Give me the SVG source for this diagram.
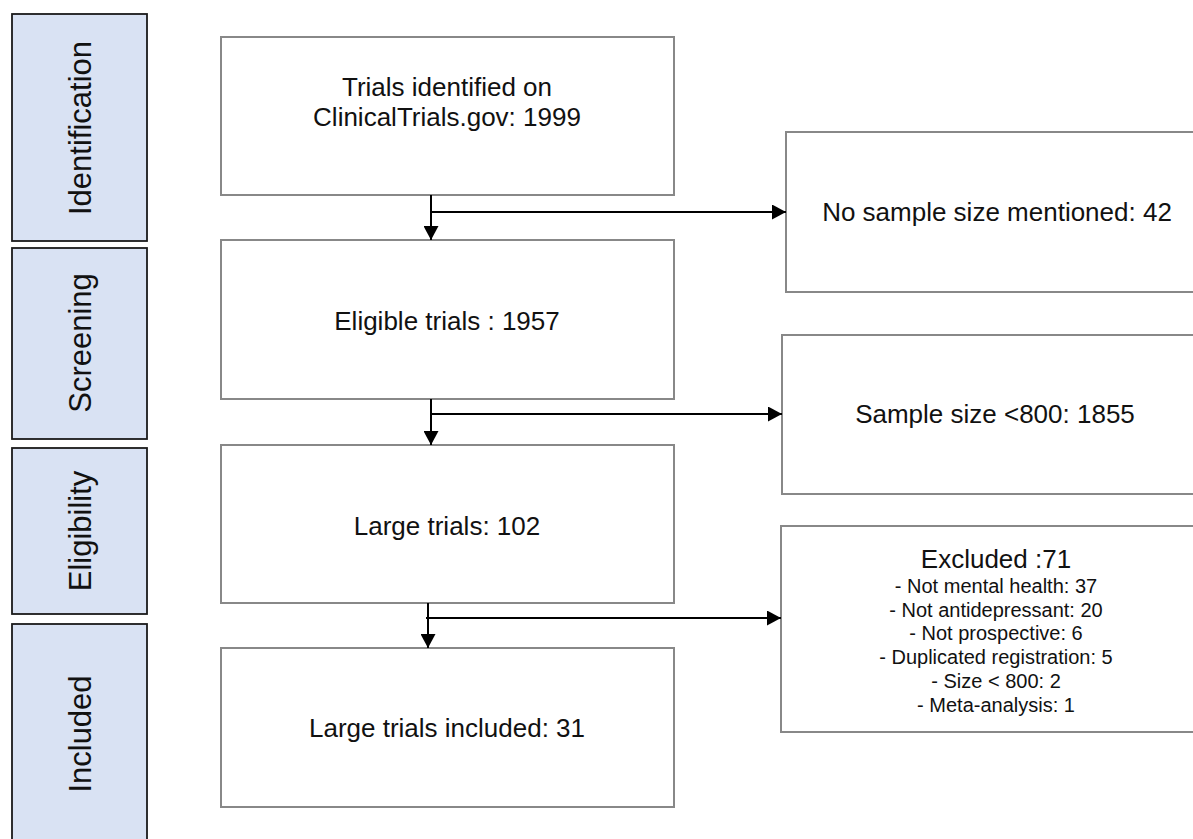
<svg xmlns="http://www.w3.org/2000/svg" width="1193" height="839" viewBox="0 0 1193 839">
<style>
.stage{fill:#d9e2f3;stroke:#1a1a1a;stroke-width:1.8}
.box{fill:#ffffff;stroke:#888888;stroke-width:2}
.t{font-family:"Liberation Sans",Arial,sans-serif;fill:#111111;text-anchor:middle}
.big{font-size:26px}
.side{font-size:31px}
.small{font-size:20px}
.conn{fill:none;stroke:#000000;stroke-width:2}
</style>
<defs>
<marker id="ah" markerUnits="userSpaceOnUse" markerWidth="14" markerHeight="15" refX="14" refY="7.5" orient="auto">
<path d="M0,0 L14,7.5 L0,15 z" fill="#000000"/>
</marker>
</defs>
<rect width="1193" height="839" fill="#ffffff"/>
<g id="stage-identification">
<rect class="stage" x="12" y="14" width="135" height="227"/>
<text class="t side" transform="translate(90.5,128) rotate(-90)">Identification</text>
</g>
<g id="stage-screening">
<rect class="stage" x="12" y="248" width="135" height="191"/>
<text class="t side" transform="translate(90.5,343) rotate(-90)">Screening</text>
</g>
<g id="stage-eligibility">
<rect class="stage" x="12" y="448" width="135" height="166"/>
<text class="t side" transform="translate(90.5,531) rotate(-90)">Eligibility</text>
</g>
<g id="stage-included">
<rect class="stage" x="12" y="624" width="135" height="222"/>
<text class="t side" transform="translate(90.5,734) rotate(-90)">Included</text>
</g>
<g id="node-identified">
<rect class="box" x="221" y="37" width="453" height="158"/>
<text class="t big" x="447" y="96">Trials identified on</text>
<text class="t big" x="447" y="126">ClinicalTrials.gov: 1999</text>
</g>
<g id="node-eligible">
<rect class="box" x="221" y="240" width="453" height="159"/>
<text class="t big" x="447" y="330">Eligible trials : 1957</text>
</g>
<g id="node-large">
<rect class="box" x="221" y="445" width="453" height="158"/>
<text class="t big" x="447" y="535">Large trials: 102</text>
</g>
<g id="node-included">
<rect class="box" x="221" y="648" width="453" height="159"/>
<text class="t big" x="447" y="737">Large trials included: 31</text>
</g>
<g id="node-nosize">
<rect class="box" x="786" y="132" width="422" height="160"/>
<text class="t big" x="997" y="221">No sample size mentioned: 42</text>
</g>
<g id="node-small">
<rect class="box" x="782" y="335" width="426" height="159"/>
<text class="t big" x="995" y="423">Sample size &lt;800: 1855</text>
</g>
<g id="node-excluded">
<rect class="box" x="781" y="526" width="427" height="206"/>
<text class="t big" x="996" y="568">Excluded :71</text>
<text class="t small" x="996" y="593">- Not mental health: 37</text>
<text class="t small" x="996" y="617">- Not antidepressant: 20</text>
<text class="t small" x="996" y="640">- Not prospective: 6</text>
<text class="t small" x="996" y="664">- Duplicated registration: 5</text>
<text class="t small" x="996" y="688">- Size &lt; 800: 2</text>
<text class="t small" x="996" y="712">- Meta-analysis: 1</text>
</g>
<g id="connectors">
<path class="conn" d="M431,195 L431,240" marker-end="url(#ah)"/>
<path class="conn" d="M431,212 L786,212" marker-end="url(#ah)"/>
<path class="conn" d="M431,399 L431,445" marker-end="url(#ah)"/>
<path class="conn" d="M431,414 L782,414" marker-end="url(#ah)"/>
<path class="conn" d="M428,603 L428,648" marker-end="url(#ah)"/>
<path class="conn" d="M426,618 L781,618" marker-end="url(#ah)"/>
</g>
</svg>
